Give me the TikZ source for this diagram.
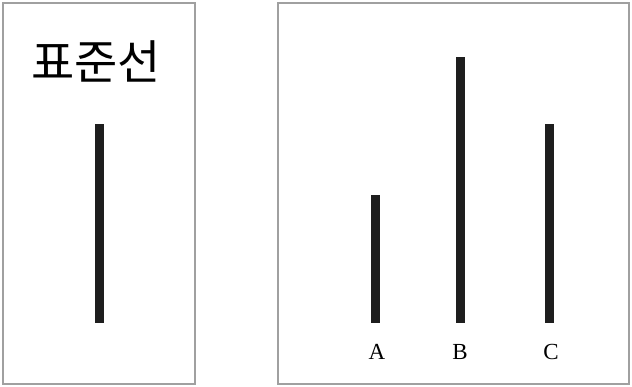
\documentclass[tikz,border=0pt]{standalone}
\usepackage{fontspec}
\setmainfont{Liberation Serif}
\newfontfamily\kofont{Noto Sans CJK KR}
\definecolor{framegray}{HTML}{A0A0A0}
\definecolor{barblack}{HTML}{1E1E1E}
\begin{document}
\begin{tikzpicture}[x=1pt,y=-1pt,
  panel/.style={draw=framegray,line width=1.2pt},
  bar/.style={fill=barblack,draw=none},
  lbl/.style={font=\fontsize{23}{26}\selectfont,inner sep=0pt}]
\useasboundingbox (0,0) rectangle (632,386);
\fill[white] (0,0) rectangle (632,386);
% panels
\draw[panel] (3,3) rectangle (195,384);
\draw[panel] (278,3) rectangle (629,384);
% title
\node[inner sep=0pt,font=\kofont\fontsize{47}{52}\selectfont] (title) at (96,61) {표준선};
% standard line
\fill[bar] (95,124) rectangle (104,323);
% comparison lines
\fill[bar] (371,195) rectangle (380,323);
\fill[bar] (456,57) rectangle (465,323);
\fill[bar] (545,124) rectangle (554,323);
% labels
\node[lbl] (A) at (377,352) {A};
\node[lbl] (B) at (460,352) {B};
\node[lbl] (C) at (551,352) {C};
\end{tikzpicture}
\end{document}
